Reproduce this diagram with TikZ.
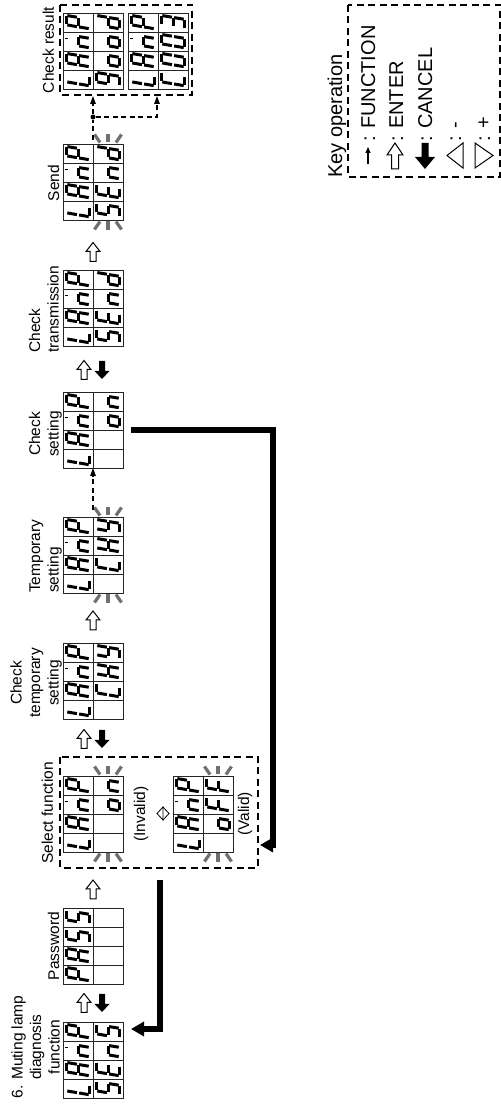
\documentclass[tikz,border=0pt]{standalone}
\usepackage{fontspec}
\setmainfont{Liberation Sans}
\usetikzlibrary{arrows.meta,calc}
\definecolor{blinkgray}{RGB}{112,112,112}
\tikzset{
  lcdbox/.style={draw=black!85, line width=0.9pt, minimum width=76pt, minimum height=60pt, inner sep=0pt, outer sep=0pt, anchor=north west},
  lcdgrid/.style={draw=black!85, line width=0.9pt},
  seg/.style={line width=3pt, shorten >=1.1pt, shorten <=1.1pt},
  blinkmark/.style={line width=3.2pt, draw=blinkgray},
  dashbox/.style={draw, dash pattern=on 7pt off 4.5pt, line width=1.3pt, inner sep=0pt, outer sep=0pt, anchor=north west},
  fnline/.style={dash pattern=on 5pt off 3.5pt, line width=1.3pt},
  fnarrow/.style={fnline, -{Triangle[length=8pt,width=5.5pt]}},
  bigarrow/.style={line width=6pt, -{Triangle[length=13pt,width=14pt]}},
  lbl/.style={font=\fontsize{15.5}{18.5}\selectfont, inner sep=0pt},
  keytxt/.style={font=\fontsize{20}{24}\selectfont, inner sep=0pt},
  hollow/.style={draw, line width=1pt, fill=white},
}
% segment paths in a 19x30 cell, origin at bottom-left
\def\spa{(7.2,26.8) -- (16.6,26.8)}
\def\spb{(16.6,26.8) -- (14.6,15)}
\def\spc{(14.6,15) -- (12.6,3.2)}
\def\spd{(12.6,3.2) -- (3.2,3.2)}
\def\spe{(3.2,3.2) -- (5.2,15)}
\def\spf{(5.2,15) -- (7.2,26.8)}
\def\spg{(5.2,15) -- (14.6,15)}
\def\spm{(10.6,26.8) -- (14.4,26.8)}
\def\spz{(0,0)}
% letters
\def\sgL{d,e,f}
\def\sgA{a,b,c,e,f,g}
\def\sgM{m,c,e,g}
\def\sgP{a,b,e,f,g}
\def\sgS{a,c,d,f,g}
\def\sgE{a,d,e,f,g}
\def\sgn{c,e,g}
\def\sgd{b,c,d,e,g}
\def\sgo{c,d,e,g}
\def\sgF{a,e,f,g}
\def\sgC{a,d,e,f}
\def\sgH{b,c,e,f,g}
\def\sgY{b,c,d,f,g}
\def\sgg{a,b,c,d,f,g}
\def\sgzero{a,b,c,d,e,f}
\def\sgthree{a,b,c,d,g}
\def\sgX{z}
\newcommand\dig[3]{\begin{scope}[shift={(#1,-#2-30)}]\foreach \s in #3 {\edef\segtmp{\noexpand\draw[seg] \csname sp\s\endcsname;}\segtmp}\end{scope}}
\newcommand\digrow[6]{\dig{#1}{#2}{#3}\dig{#1+19}{#2}{#4}\dig{#1+38}{#2}{#5}\dig{#1+57}{#2}{#6}}
\newcommand\lamprow[2]{\digrow{#1}{#2}{\sgL}{\sgA}{\sgM}{\sgP}}
\newcommand\lcd[3]{\node[lcdbox] (#1) at (#2,-#3) {};
  \draw[lcdgrid] (#2,-#3-30) -- ++(76,0);
  \foreach \k in {1,2,3} {\draw[lcdgrid] (#2+19*\k,-#3) -- ++(0,-60);}}
\newcommand\blinkR[2]{%
  \draw[blinkmark] (#1+1.5,-#2-7) -- (#1+9.5,-#2-1.5);
  \draw[blinkmark] (#1+1.5,-#2-15) -- (#1+10,-#2-15);
  \draw[blinkmark] (#1+1.5,-#2-23) -- (#1+9.5,-#2-28.5);}
\newcommand\blinkL[2]{%
  \draw[blinkmark] (#1-1.5,-#2-7) -- (#1-9.5,-#2-1.5);
  \draw[blinkmark] (#1-1.5,-#2-15) -- (#1-10,-#2-15);
  \draw[blinkmark] (#1-1.5,-#2-23) -- (#1-9.5,-#2-28.5);}
\newcommand\enterR[2]{\draw[hollow] (#1-9.5,-#2+3) -- (#1+0.5,-#2+3) -- (#1+0.5,-#2+7) -- (#1+9.5,-#2) -- (#1+0.5,-#2-7) -- (#1+0.5,-#2-3) -- (#1-9.5,-#2-3) -- cycle;}
\newcommand\cancelL[2]{\fill (#1+9,-#2+3) -- (#1-1,-#2+3) -- (#1-1,-#2+7.5) -- (#1-9,-#2) -- (#1-1,-#2-7.5) -- (#1-1,-#2-3) -- (#1+9,-#2-3) -- cycle;}

\begin{document}
\begin{tikzpicture}[x=1pt,y=1pt]
\useasboundingbox (0,0) rectangle (501,1104);
\fill[white] (0,0) rectangle (501,1104);
\begin{scope}[rotate=90, transform shape]
% 1 Muting lamp diagnosis function
\lcd{muting}{6}{63}
\lamprow{6}{63}
\digrow{6}{93}{\sgS}{\sgE}{\sgn}{\sgS}
\node[lbl, align=center, anchor=south] (lmuting) at (57,-60) {6. Muting lamp\\diagnosis\\function};
\enterR{101}{84}\cancelL{101}{102}
% 2 Password
\lcd{pass}{120}{63}
\digrow{120}{63}{\sgP}{\sgA}{\sgS}{\sgS}
\node[lbl, anchor=base] (lpass) at (158,-59) {Password};
\enterR{214.5}{93}
% 3 Select function
\node[dashbox, minimum width=111pt, minimum height=198pt] (selbox) at (236,-60) {};
\node[lbl, anchor=base] (lsel) at (291,-53) {Select function};
\lcd{selA}{252}{63}
\lamprow{252}{63}
\digrow{252}{93}{\sgX}{\sgX}{\sgo}{\sgn}
\blinkL{252}{93}\blinkR{328}{93}
\node[lbl, anchor=base] (linvalid) at (290,-145) {(Invalid)};
\draw[line width=0.8pt] (284,-163) -- (290.5,-157) -- (297,-163) -- cycle;
\draw[line width=0.8pt] (284,-163) -- (290.5,-169) -- (297,-163);
\lcd{selB}{252}{173}
\lamprow{252}{173}
\digrow{252}{203}{\sgX}{\sgo}{\sgF}{\sgF}
\blinkL{252}{203}\blinkR{328}{203}
\node[lbl, anchor=base] (lvalid) at (290,-249) {(Valid)};
\enterR{365}{84}\cancelL{365}{102}
% 4 Check temporary setting
\lcd{chktmp}{385}{63}
\lamprow{385}{63}
\digrow{385}{93}{\sgX}{\sgC}{\sgH}{\sgY}
\node[lbl, align=center, anchor=south] (lchktmp) at (421,-62) {Check\\temporary\\setting};
\enterR{483.5}{93}
% 5 Temporary setting
\lcd{tmpset}{511}{63}
\lamprow{511}{63}
\digrow{511}{93}{\sgX}{\sgC}{\sgH}{\sgY}
\blinkL{511}{93}\blinkR{587}{93}
\node[lbl, align=left, anchor=south west] (ltmpset) at (511,-62) {Temporary\\setting};
% 6 Check setting
\lcd{chkset}{636}{63}
\lamprow{636}{63}
\digrow{636}{93}{\sgX}{\sgX}{\sgo}{\sgn}
\node[lbl, align=center, anchor=south] (lchkset) at (670,-62) {Check\\setting};
\draw[fnarrow] ($(tmpset.east)+(7,0)$) -- (chkset.west);
\enterR{734}{84}\cancelL{734}{102}
% 7 Check transmission
\lcd{chktx}{758}{63}
\lamprow{758}{63}
\digrow{758}{93}{\sgS}{\sgE}{\sgn}{\sgd}
\node[lbl, align=left, anchor=south west] (lchktx) at (751,-59) {Check\\transmission};
\enterR{852}{93}
% 8 Send
\lcd{send}{884}{63}
\lamprow{884}{63}
\digrow{884}{93}{\sgS}{\sgE}{\sgn}{\sgd}
\blinkL{884}{93}\blinkR{960}{93}
\node[lbl, anchor=base] (lsend) at (921,-59) {Send};
% 9 Check result
\node[dashbox, minimum width=90pt, minimum height=132pt] (resbox) at (1009,-60) {};
\node[lbl, anchor=base] (lres) at (1054,-54) {Check result};
\lcd{resA}{1015}{63}
\lamprow{1015}{63}
\digrow{1015}{93}{\sgg}{\sgo}{\sgo}{\sgd}
\lcd{resB}{1015}{128}
\lamprow{1015}{128}
\digrow{1015}{158}{\sgC}{\sgzero}{\sgzero}{\sgthree}
\node[circle, fill, inner sep=0pt, minimum size=5pt] (dot) at (987,-93) {};
\coordinate (r1) at (1008,-93);
\coordinate (k2) at (987,-157);
\coordinate (r2) at (1008,-157);
\draw[fnline] ($(send.east)+(4,0)$) -- (dot);
\draw[fnarrow] (dot) -- (r1);
\draw[fnarrow] (dot) -- (k2) -- (r2);
% thick return arrows
\coordinate (b1) at (224,-160);
\coordinate (b2) at (75,-160);
\coordinate (b3) at (75,-131);
\draw[bigarrow] (b1) -- (b2) -- (b3);
\coordinate (c1) at (674,-131);
\coordinate (c2) at (674,-273);
\coordinate (c3) at (259,-273);
\coordinate (c4) at (259,-260);
\draw[bigarrow] (c1) -- (c2) -- (c3) -- (c4);
% legend
\node[dashbox, minimum width=172pt, minimum height=152pt] (keybox) at (927,-348) {};
\node[keytxt, anchor=base west] (keytitle) at (926,-342) {Key operation};
\draw[line width=1.3pt, -{Triangle[length=6pt,width=5pt]}] (940,-368) -- (957,-368);
\node[keytxt, anchor=base west] (kfunc) at (962,-375) {: FUNCTION};
\draw[hollow] (935,-395+3.5) -- (949,-395+3.5) -- (949,-395+8) -- (961,-395) -- (949,-395-8) -- (949,-395-3.5) -- (935,-395-3.5) -- cycle;
\node[keytxt, anchor=base west] (kenter) at (962,-403) {: ENTER};
\fill (961,-425+3.5) -- (947,-425+3.5) -- (947,-425+10) -- (935,-425) -- (947,-425-10) -- (947,-425-3.5) -- (961,-425-3.5) -- cycle;
\node[keytxt, anchor=base west] (kcancel) at (962,-432) {: CANCEL};
\draw[hollow] (936,-463) -- (948.5,-447) -- (961,-463) -- cycle;
\node[keytxt, anchor=base west] (kminus) at (962,-461) {: -};
\draw[hollow] (936,-475) -- (948.5,-493) -- (961,-475) -- cycle;
\node[keytxt, anchor=base west] (kplus) at (962,-490) {: +};
\end{scope}
\end{tikzpicture}
\end{document}
